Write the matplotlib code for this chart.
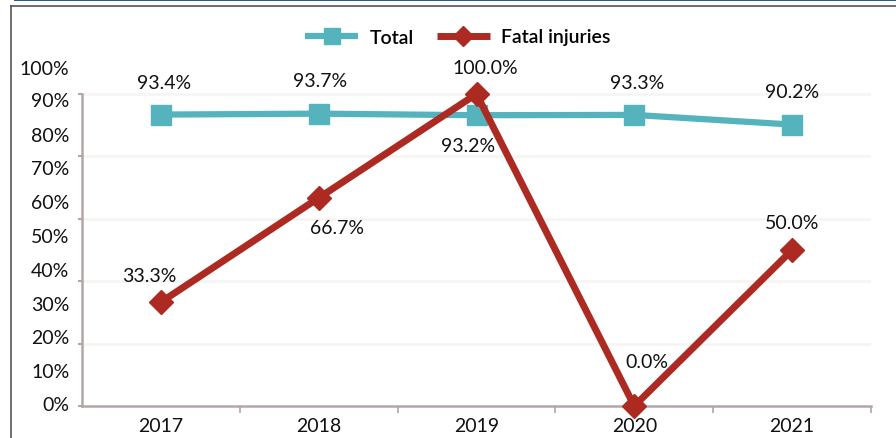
import matplotlib
matplotlib.use("Agg")
import matplotlib.pyplot as plt
from matplotlib.patches import Rectangle
from matplotlib.lines import Line2D

plt.rcParams['font.family'] = ['Lato', 'DejaVu Sans']

years = ["2017", "2018", "2019", "2020", "2021"]
total = [93.4, 93.7, 93.2, 93.3, 90.2]
fatal = [33.3, 66.7, 100.0, 0.0, 50.0]
ytick_labels = ["0%", "10%", "20%", "30%", "40%", "50%", "60%", "70%", "80%", "90%", "100%"]
# label positions on the (misaligned) printed scale, in data units
ytick_pos = [1.0, 11.5, 22.4, 33.0, 43.9, 54.8, 65.7, 76.6, 87.2, 98.4, 108.7]

teal = "#55b3bd"
red = "#ad2a22"
axis_col = "#b3a6a6"

W, H = 896, 439
fig = plt.figure(figsize=(W / 100, H / 100), dpi=100)

# outer frame
fig.patches.append(Rectangle((14 / W, 1 - 2 / H), 1, 2 / H, transform=fig.transFigure,
                             facecolor="#1f5f9e", edgecolor="none"))
fig.add_artist(Line2D([11 / W, 11 / W], [1 - 7 / H, 0], transform=fig.transFigure,
                      color="#555555", lw=1.2))
fig.add_artist(Line2D([11 / W, 1], [1 - 7 / H, 1 - 7 / H], transform=fig.transFigure,
                      color="#555555", lw=1.2))

left, right, bottom, top = 82, 871, 407, 60
ax = fig.add_axes([left / W, (H - bottom) / H, (right - left) / W, (bottom - top) / H])
px_per_unit = (407 - 95) / 100.0
ax.set_ylim(0, (bottom - top) / px_per_unit)
ax.set_xlim(-0.5, len(years) - 0.5)

x = list(range(len(years)))
ax.plot(x, total, color=teal, lw=4.5, marker="s", markersize=14, label="Total",
        solid_capstyle="butt", zorder=3, clip_on=False)
ax.plot(x, fatal, color=red, lw=5, marker="D", markersize=12, label="Fatal injuries",
        solid_capstyle="butt", zorder=4, clip_on=False)

for s in ["top", "right"]:
    ax.spines[s].set_visible(False)
ax.spines["left"].set_bounds(0, 100)
ax.spines["left"].set_color(axis_col)
ax.spines["bottom"].set_color(axis_col)
ax.spines["left"].set_linewidth(1.8)
ax.spines["bottom"].set_linewidth(1.8)

fs = 14
ax.set_yticks(ytick_pos, ytick_labels)
ax.set_yticks([0, 20, 40, 60, 80, 100], minor=True)
ax.tick_params(axis="y", which="major", length=0, pad=9, labelsize=fs, labelcolor="#111111")
ax.tick_params(axis="y", which="minor", length=3, width=1.5, color=axis_col)
ax.set_xticks(x, years)
ax.set_xticks([i + 0.5 for i in x], minor=True)
ax.tick_params(axis="x", which="major", length=0, pad=8, labelsize=fs, labelcolor="#111111")
ax.tick_params(axis="x", which="minor", length=5, width=1.2, color=axis_col)

for v in [20, 40, 60, 80, 100]:
    ax.axhline(v, color="#f8f4f4", lw=2, zorder=0)

tot_off = [(2, 23), (1, 24), (-6, -22), (2, 23), (0, 24)]
fat_off = [(-8, 19), (13, -21), (6, 19), (9, 32), (0, 20)]
for i, v in enumerate(total):
    ax.annotate(f"{v:.1f}%", (i, v), xytext=tot_off[i], textcoords="offset points",
                ha="center", va="center", fontsize=fs, color="#111111", zorder=5)
for i, v in enumerate(fatal):
    ax.annotate(f"{v:.1f}%", (i, v), xytext=fat_off[i], textcoords="offset points",
                ha="center", va="center", fontsize=fs, color="#111111", zorder=5)

ax.legend(loc="center", bbox_to_anchor=(458 / W, (H - 38) / H), bbox_transform=fig.transFigure,
          ncol=2, frameon=False, handlelength=2.7, columnspacing=1.2, handletextpad=0.6,
          prop={"size": 14, "weight": "semibold"}, markerscale=0.85)

fig.savefig("out.png", dpi=100)
